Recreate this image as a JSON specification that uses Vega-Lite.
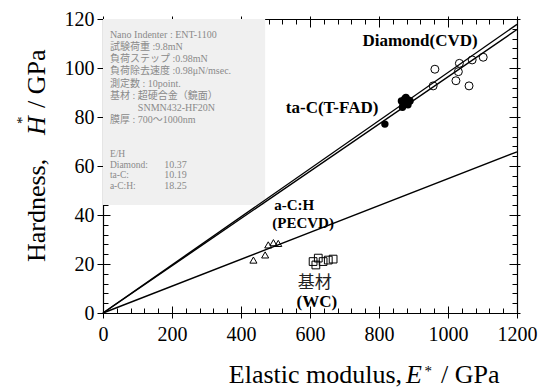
{
  "$schema": "https://vega.github.io/schema/vega-lite/v6.json",
  "width": 414,
  "height": 294,
  "autosize": "none",
  "padding": {"left": 103, "top": 19, "right": 24, "bottom": 78},
  "background": "white",
  "config": {
    "view": {"stroke": null},
    "axis": {"grid": false, "zindex": 1, "domainColor": "black", "tickColor": "black", "labelColor": "black", "labelFont": "Liberation Serif", "domainWidth": 1.2, "tickWidth": 1}
  },
  "datasets": {
    "lines": [
      {"series": "Diamond", "E": 0, "H": 0}, {"series": "Diamond", "E": 1200, "H": 115.7},
      {"series": "ta-C", "E": 0, "H": 0}, {"series": "ta-C", "E": 1200, "H": 117.8},
      {"series": "a-C:H", "E": 0, "H": 0}, {"series": "a-C:H", "E": 1200, "H": 65.8}
    ],
    "points": [
      {"material": "Diamond", "E": 962, "H": 99.5},
      {"material": "Diamond", "E": 1033, "H": 101.9},
      {"material": "Diamond", "E": 1070, "H": 103.3},
      {"material": "Diamond", "E": 1102, "H": 104.4},
      {"material": "Diamond", "E": 1030, "H": 98.5},
      {"material": "Diamond", "E": 1023, "H": 94.8},
      {"material": "Diamond", "E": 957, "H": 92.7},
      {"material": "Diamond", "E": 1061, "H": 92.7},
      {"material": "ta-C", "E": 817, "H": 77.1},
      {"material": "ta-C", "E": 865, "H": 86.5},
      {"material": "ta-C", "E": 870, "H": 85},
      {"material": "ta-C", "E": 875, "H": 87.5},
      {"material": "ta-C", "E": 880, "H": 86},
      {"material": "ta-C", "E": 885, "H": 87},
      {"material": "ta-C", "E": 890, "H": 86.5},
      {"material": "ta-C", "E": 868, "H": 84},
      {"material": "ta-C", "E": 878, "H": 88},
      {"material": "ta-C", "E": 872, "H": 86.8},
      {"material": "ta-C", "E": 884, "H": 85},
      {"material": "a-C:H", "E": 436, "H": 21.6},
      {"material": "a-C:H", "E": 470, "H": 23.7},
      {"material": "a-C:H", "E": 479, "H": 27.8},
      {"material": "a-C:H", "E": 494, "H": 28.7},
      {"material": "a-C:H", "E": 508, "H": 28.4},
      {"material": "WC", "E": 609, "H": 21.0},
      {"material": "WC", "E": 624, "H": 22.4},
      {"material": "WC", "E": 638, "H": 21.0},
      {"material": "WC", "E": 653, "H": 21.6},
      {"material": "WC", "E": 667, "H": 22.0},
      {"material": "WC", "E": 617, "H": 19.6}
    ],
    "labels": [
      {"text": "Diamond(CVD)", "E": 919, "H": 111, "size": "big"},
      {"text": "ta-C(T-FAD)", "E": 664, "H": 83.7, "size": "big"},
      {"text": "a-C:H", "E": 554, "H": 44.0, "size": "small"},
      {"text": "(PECVD)", "E": 580, "H": 36.7, "size": "small"},
      {"text": "(WC)", "E": 620, "H": 4.5, "size": "big"}
    ],
    "info": [
      {"text": "Nano Indenter : ENT-1100", "E": 20, "H": 113.5},
      {"text": "試験荷重 :9.8mN", "E": 20, "H": 108.6},
      {"text": "負荷ステップ :0.98mN", "E": 20, "H": 103.7},
      {"text": "負荷除去速度 :0.98μN/msec.", "E": 20, "H": 98.8},
      {"text": "測定数 : 10point.", "E": 20, "H": 93.5},
      {"text": "基材 : 超硬合金（鏡面）", "E": 20, "H": 88.6},
      {"text": "SNMN432-HF20N", "E": 101, "H": 83.7},
      {"text": "膜厚 : 700～1000nm", "E": 20, "H": 78.8}
    ],
    "info2": [
      {"text": "E/H", "E": 20, "H": 64.9},
      {"text": "Diamond:", "E": 20, "H": 60.6},
      {"text": "ta-C:", "E": 20, "H": 56.3},
      {"text": "a-C:H:", "E": 20, "H": 52.0}
    ],
    "infoValues": [
      {"text": "10.37", "E": 243, "H": 60.6},
      {"text": "10.19", "E": 243, "H": 56.3},
      {"text": "18.25", "E": 243, "H": 52.0}
    ]
  },
  "layer": [
    {
      "data": {"values": [{"E0": 0, "E1": 470, "H0": 44.1, "H1": 120}]},
      "mark": {"type": "rect", "fill": "#f0f0f0"},
      "encoding": {
        "x": {"field": "E0", "type": "quantitative", "scale": {"domain": [0, 1200], "nice": false, "zero": false},
              "axis": {"orient": "bottom", "values": [0, 200, 400, 600, 800, 1000, 1200], "format": "d", "tickSize": 5, "labelFontSize": 20, "labelPadding": 6, "title": null, "labelFlush": false}},
        "x2": {"field": "E1"},
        "y": {"field": "H0", "type": "quantitative", "scale": {"domain": [0, 120], "nice": false, "zero": false},
              "axis": {"orient": "left", "values": [0, 20, 40, 60, 80, 100, 120], "format": "d", "tickSize": 6, "labelFontSize": 20, "labelPadding": 3, "title": null, "labelFlush": false}},
        "y2": {"field": "H1"}
      }
    },
    {
      "data": {"name": "lines"},
      "mark": {"type": "line", "color": "black"},
      "encoding": {
        "x": {"field": "E", "type": "quantitative", "scale": {"domain": [0, 1200], "nice": false, "zero": false},
              "axis": {"orient": "bottom", "offset": -5, "values": [0,40,80,120,160,200,240,280,320,360,400,440,480,520,560,600,640,680,720,760,800,840,880,920,960,1000,1040,1080,1120,1160,1200], "tickSize": 5, "labels": false, "domain": false, "title": null}},
        "y": {"field": "H", "type": "quantitative", "scale": {"domain": [0, 120], "nice": false, "zero": false},
              "axis": {"orient": "left", "offset": -5, "values": [0,4,8,12,16,20,24,28,32,36,40,44,48,52,56,60,64,68,72,76,80,84,88,92,96,100,104,108,112,116,120], "tickSize": 5, "labels": false, "domain": false, "title": null}},
        "detail": {"field": "series"},
        "strokeWidth": {"field": "series", "type": "nominal", "scale": {"domain": ["Diamond", "ta-C", "a-C:H"], "range": [1.4, 1.4, 1]}, "legend": null}
      }
    },
    {
      "data": {"name": "points"},
      "transform": [{"filter": "datum.material === 'Diamond'"}],
      "mark": {"type": "point", "shape": "circle", "filled": false, "stroke": "black", "strokeWidth": 1, "size": 64, "opacity": 1},
      "encoding": {
        "x": {"field": "E", "type": "quantitative", "scale": {"domain": [0, 1200], "nice": false, "zero": false},
              "axis": {"orient": "top", "values": [0, 200, 400, 600, 800, 1000, 1200], "tickSize": 3, "labels": false, "domain": true, "title": null}},
        "y": {"field": "H", "type": "quantitative", "scale": {"domain": [0, 120], "nice": false, "zero": false},
              "axis": {"orient": "right", "values": [0, 20, 40, 60, 80, 100, 120], "tickSize": 3, "labels": false, "domain": true, "title": null}}
      }
    },
    {
      "data": {"name": "points"},
      "transform": [{"filter": "datum.material === 'ta-C'"}],
      "mark": {"type": "point", "shape": "circle", "filled": true, "color": "black", "size": 55, "opacity": 1},
      "encoding": {
        "x": {"field": "E", "type": "quantitative", "scale": {"domain": [0, 1200], "nice": false, "zero": false},
              "axis": {"orient": "top", "offset": -5, "values": [0,40,80,120,160,200,240,280,320,360,400,440,480,520,560,600,640,680,720,760,800,840,880,920,960,1000,1040,1080,1120,1160,1200], "tickSize": 5, "labels": false, "domain": false, "title": null}},
        "y": {"field": "H", "type": "quantitative", "scale": {"domain": [0, 120], "nice": false, "zero": false},
              "axis": {"orient": "right", "offset": -5, "values": [0,4,8,12,16,20,24,28,32,36,40,44,48,52,56,60,64,68,72,76,80,84,88,92,96,100,104,108,112,116,120], "tickSize": 5, "labels": false, "domain": false, "title": null}}
      }
    },
    {
      "data": {"name": "points"},
      "transform": [{"filter": "datum.material === 'a-C:H'"}],
      "mark": {"type": "point", "shape": "triangle-up", "filled": false, "stroke": "black", "strokeWidth": 1, "size": 50, "opacity": 1},
      "encoding": {
        "x": {"field": "E", "type": "quantitative", "scale": {"domain": [0, 1200], "nice": false, "zero": false},
              "axis": {"orient": "bottom", "offset": -7, "values": [0, 200, 400, 600, 800, 1000, 1200], "tickSize": 7, "labels": false, "domain": false, "title": null}},
        "y": {"field": "H", "type": "quantitative", "scale": {"domain": [0, 120], "nice": false, "zero": false},
              "axis": {"orient": "left", "offset": -7, "values": [0, 20, 40, 60, 80, 100, 120], "tickSize": 7, "labels": false, "domain": false, "title": null}}
      }
    },
    {
      "data": {"name": "points"},
      "transform": [{"filter": "datum.material === 'WC'"}],
      "mark": {"type": "point", "shape": "square", "filled": false, "stroke": "black", "strokeWidth": 1, "size": 60, "opacity": 1},
      "encoding": {
        "x": {"field": "E", "type": "quantitative", "scale": {"domain": [0, 1200], "nice": false, "zero": false},
              "axis": {"orient": "top", "offset": -8, "values": [0, 200, 400, 600, 800, 1000, 1200], "tickSize": 8, "labels": false, "domain": false, "title": null}},
        "y": {"field": "H", "type": "quantitative", "scale": {"domain": [0, 120], "nice": false, "zero": false},
              "axis": {"orient": "right", "offset": -8, "values": [0, 20, 40, 60, 80, 100, 120], "tickSize": 8, "labels": false, "domain": false, "title": null}}
      }
    },
    {
      "data": {"name": "labels"},
      "mark": {"type": "text", "font": "Liberation Serif", "fontWeight": "bold", "fontSize": {"expr": "datum.size === 'big' ? 17 : 15"}, "align": "center", "baseline": "middle", "color": "black"},
      "encoding": {
        "x": {"field": "E", "type": "quantitative", "axis": null},
        "y": {"field": "H", "type": "quantitative", "axis": null},
        "text": {"field": "text"}
      }
    },
    {
      "data": {"values": [{"text": "基材", "E": 614, "H": 12.2}]},
      "mark": {"type": "text", "font": "Noto Sans CJK JP", "fontWeight": "normal", "fontSize": 17, "align": "center", "baseline": "middle", "color": "#222"},
      "encoding": {
        "x": {"field": "E", "type": "quantitative", "axis": null},
        "y": {"field": "H", "type": "quantitative", "axis": null},
        "text": {"field": "text"}
      }
    },
    {
      "data": {"name": "info"},
      "mark": {"type": "text", "font": "Liberation Serif, Noto Sans CJK JP", "fontSize": 10, "align": "left", "baseline": "middle", "color": "#8a8a8a"},
      "encoding": {
        "x": {"field": "E", "type": "quantitative", "axis": null},
        "y": {"field": "H", "type": "quantitative", "axis": null},
        "text": {"field": "text"}
      }
    },
    {
      "data": {"name": "info2"},
      "mark": {"type": "text", "font": "Liberation Serif", "fontSize": 9.5, "align": "left", "baseline": "middle", "color": "#8a8a8a"},
      "encoding": {
        "x": {"field": "E", "type": "quantitative", "axis": null},
        "y": {"field": "H", "type": "quantitative", "axis": null},
        "text": {"field": "text"}
      }
    },
    {
      "data": {"name": "infoValues"},
      "mark": {"type": "text", "font": "Liberation Serif", "fontSize": 10, "align": "right", "baseline": "middle", "color": "#8a8a8a"},
      "encoding": {
        "x": {"field": "E", "type": "quantitative", "axis": null},
        "y": {"field": "H", "type": "quantitative", "axis": null},
        "text": {"field": "text"}
      }
    },
    {
      "data": {"values": [
        {"text": "Elastic modulus,", "E": 867, "H": -28.6, "align": "right"},
        {"text": "/ GPa", "E": 980, "H": -28.6, "align": "left"}
      ]},
      "mark": {"type": "text", "font": "Liberation Serif", "fontSize": 26, "baseline": "alphabetic", "color": "black", "align": {"expr": "datum.align"}},
      "encoding": {
        "x": {"field": "E", "type": "quantitative", "axis": null},
        "y": {"field": "H", "type": "quantitative", "axis": null},
        "text": {"field": "text"}
      }
    },
    {
      "data": {"values": [{"text": "E", "E": 878, "H": -28.6}]},
      "mark": {"type": "text", "font": "Liberation Serif", "fontStyle": "italic", "fontSize": 26, "baseline": "alphabetic", "align": "left", "color": "black"},
      "encoding": {
        "x": {"field": "E", "type": "quantitative", "axis": null},
        "y": {"field": "H", "type": "quantitative", "axis": null},
        "text": {"field": "text"}
      }
    },
    {
      "data": {"values": [{"text": "*", "E": 932, "H": -20.8}]},
      "mark": {"type": "text", "font": "Liberation Serif", "fontSize": 15, "baseline": "top", "align": "left", "color": "black"},
      "encoding": {
        "x": {"field": "E", "type": "quantitative", "axis": null},
        "y": {"field": "H", "type": "quantitative", "axis": null},
        "text": {"field": "text"}
      }
    },
    {
      "data": {"values": [
        {"text": "Hardness,", "E": -168, "H": 20.8},
        {"text": "/ GPa", "E": -168, "H": 83.7}
      ]},
      "mark": {"type": "text", "font": "Liberation Serif", "fontSize": 26, "baseline": "alphabetic", "align": "left", "angle": 270, "color": "black"},
      "encoding": {
        "x": {"field": "E", "type": "quantitative", "axis": null},
        "y": {"field": "H", "type": "quantitative", "axis": null},
        "text": {"field": "text"}
      }
    },
    {
      "data": {"values": [{"text": "H", "E": -168, "H": 72.7}]},
      "mark": {"type": "text", "font": "Liberation Serif", "fontStyle": "italic", "fontSize": 26, "baseline": "alphabetic", "align": "left", "angle": 270, "color": "black"},
      "encoding": {
        "x": {"field": "E", "type": "quantitative", "axis": null},
        "y": {"field": "H", "type": "quantitative", "axis": null},
        "text": {"field": "text"}
      }
    },
    {
      "data": {"values": [{"text": "*", "E": -255, "H": 77.1}]},
      "mark": {"type": "text", "font": "Liberation Serif", "fontSize": 15, "baseline": "top", "align": "left", "angle": 270, "color": "black"},
      "encoding": {
        "x": {"field": "E", "type": "quantitative", "axis": null},
        "y": {"field": "H", "type": "quantitative", "axis": null},
        "text": {"field": "text"}
      }
    }
  ],
  "resolve": {"scale": {"x": "shared", "y": "shared"}, "axis": {"x": "independent", "y": "independent"}}
}
